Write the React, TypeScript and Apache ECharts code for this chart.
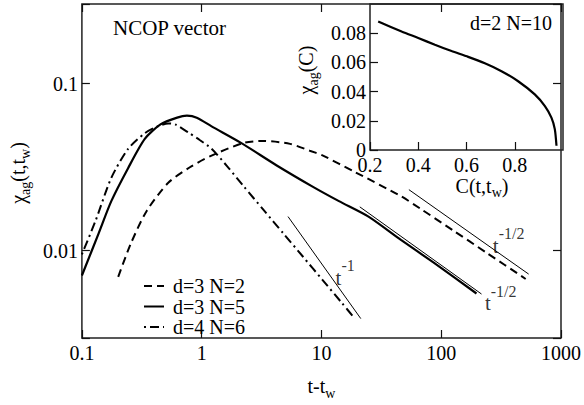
import React, { useEffect, useRef } from 'react';
import * as echarts from 'echarts';

const FONT = 'Liberation Serif';

// ---- data ----
const seriesNames = ['d=3 N=2', 'd=3 N=5', 'd=4 N=6'];

// d=3 N=2 (dashed)
const dashedX = [0.201, 0.257, 0.3475, 0.526, 0.797, 1.208, 2.252, 3.284, 5.47, 7.98, 10.2, 19.0, 46.1, 67.3, 125.4, 238, 507];
const dashedY = [0.00697, 0.0111, 0.0173, 0.0255, 0.0316, 0.0371, 0.0442, 0.0454, 0.0436, 0.0397, 0.0372, 0.0296, 0.0212, 0.0178, 0.01324, 0.00974, 0.00677];

// d=3 N=5 (solid)
const solidX = [0.1, 0.138, 0.176, 0.243, 0.335, 0.453, 0.624, 0.753, 0.91, 1.21, 2.13, 4.2, 8.43, 14.0, 24.7, 46.1, 86, 197];
const solidY = [0.0071, 0.0127, 0.0198, 0.0312, 0.0467, 0.057, 0.0626, 0.0643, 0.0626, 0.0555, 0.0442, 0.0325, 0.0242, 0.0198, 0.016, 0.0116, 0.0085, 0.00554];

// d=4 N=6 (dash-dot)
const dashDotX = [0.1, 0.13, 0.176, 0.243, 0.335, 0.428, 0.526, 0.601, 0.768, 0.963, 1.208, 1.634, 2.252, 3.284, 4.79, 6.99, 10.19, 14.86, 19.0];
const dashDotY = [0.0095, 0.0151, 0.0273, 0.0407, 0.0505, 0.0555, 0.0578, 0.057, 0.0512, 0.046, 0.0408, 0.032, 0.0242, 0.01754, 0.01273, 0.00923, 0.00669, 0.00485, 0.00392];

// thin power-law guide lines
const guideMinus1X = [5.26, 21.3];
const guideMinus1Y = [0.016, 0.00392];
const guideHalfLowX = [20.9, 217];
const guideHalfLowY = [0.0183, 0.0055];
const guideHalfHighX = [53.7, 537];
const guideHalfHighY = [0.0232, 0.00724];

// annotation labels (data coordinates of their left edge)
const annotX = [13.0, 229.6, 267];
const annotY = [0.00687, 0.00485, 0.01069];
const annotText = ['{b|t}{p|-1}', '{b|t}{p|-1/2}', '{b|t}{p|-1/2}'];

// inset: chi_ag(C) for d=2 N=10
const insetC = [0.234, 0.331, 0.4, 0.469, 0.538, 0.607, 0.676, 0.745, 0.814, 0.883, 0.925, 0.952, 0.966, 0.973];
const insetChi = [0.088, 0.0812, 0.0767, 0.0721, 0.0678, 0.0638, 0.0594, 0.054, 0.0471, 0.0381, 0.0301, 0.0222, 0.0143, 0.0029];

// tick labels
const xTickLabels = [0.1, 1, 10, 100, 1000];
const yTickLabels = [0.01, 0.1];

const zip = (xs: number[], ys: number[]) => xs.map((x, i) => [x, ys[i]]);

const isTick = (list: number[], v: number) =>
  list.find((t) => Math.abs(Math.log10(t) - Math.log10(v)) < 1e-6);

const INK = '#111';

const nameRich = {
  n: { fontSize: 20, fontFamily: FONT, color: '#000' },
  s: { fontSize: 14, fontFamily: FONT, color: '#000', padding: [14, 0, 0, 0] },
};

export default function App() {
  const ref = useRef<HTMLDivElement>(null);

  useEffect(() => {
    if (!ref.current) return;
    const chart = echarts.init(ref.current, undefined, { renderer: 'svg' });

    const tickStyle = { show: true, inside: true, length: 8, lineStyle: { color: INK, width: 1.2 } };
    const labelBase = { color: '#000', fontSize: 20, fontFamily: FONT };

    const curveBase = { type: 'line', xAxisIndex: 0, yAxisIndex: 0, symbol: 'none', showSymbol: false, smooth: 0.25 };

    const option: any = {
      animation: false,
      backgroundColor: '#fff',
      textStyle: { fontFamily: FONT },
      grid: [
        { left: 75, right: 21, top: 4, bottom: 58, show: true, borderColor: '#222', borderWidth: 1.5, backgroundColor: 'transparent' },
        { left: 370, right: 21, top: 4, bottom: 255, show: true, borderColor: '#222', borderWidth: 1.5, backgroundColor: 'transparent' },
      ],
      xAxis: [
        {
          type: 'log', gridIndex: 0, min: 0.1, max: 1000, logBase: 10,
          axisLine: { show: false }, splitLine: { show: false }, axisTick: tickStyle,
          minorTick: { show: false },
          axisLabel: { ...labelBase, margin: 5, formatter: (v: number) => { const t = isTick(xTickLabels, v); return t === undefined ? '' : String(t); } },
          name: '{n|t-t}{s|w}', nameLocation: 'middle', nameGap: 34,
          nameTextStyle: { rich: nameRich },
        },
        {
          type: 'log', gridIndex: 0, min: 0.1, max: 1000, logBase: 10, position: 'top',
          axisLine: { show: false }, splitLine: { show: false }, axisTick: tickStyle, axisLabel: { show: false },
        },
        {
          type: 'value', gridIndex: 1, min: 0.2, max: 1, interval: 0.2,
          axisLine: { show: false }, splitLine: { show: false }, axisTick: tickStyle,
          axisLabel: { ...labelBase, margin: 5, showMaxLabel: false },
          name: '{n|C(t,t}{s|w}{n|)}', nameLocation: 'middle', nameGap: 15,
          nameTextStyle: { rich: nameRich, padding: [0, 0, 0, 31] },
        },
      ],
      yAxis: [
        {
          type: 'log', gridIndex: 0, min: 0.003, max: 0.3, logBase: 10,
          axisLine: { show: false }, splitLine: { show: false }, axisTick: tickStyle,
          axisLabel: { ...labelBase, margin: 4, formatter: (v: number) => { const t = isTick(yTickLabels, v); return t === undefined ? '' : String(t); } },
          name: '{n|χ}{s|ag}{n|(t,t}{s|w}{n|)}', nameLocation: 'middle', nameGap: 37,
          nameTextStyle: { rich: nameRich, padding: [0, 4, 0, 0] },
        },
        {
          type: 'log', gridIndex: 0, min: 0.003, max: 0.3, logBase: 10, position: 'right',
          axisLine: { show: false }, splitLine: { show: false }, axisTick: tickStyle, axisLabel: { show: false },
        },
        {
          type: 'value', gridIndex: 1, min: 0, max: 0.1, interval: 0.02,
          axisLine: { show: false }, splitLine: { show: false }, axisTick: tickStyle,
          axisLabel: { ...labelBase, margin: 4, showMaxLabel: false },
          name: '{n|χ}{s|ag}{n|(C)}', nameLocation: 'middle', nameGap: 50,
          nameTextStyle: { rich: nameRich, padding: [0, 0, 0, 14] },
        },
      ],
      legend: {
        orient: 'vertical', left: 138, top: 271, itemGap: 0.5, itemWidth: 20, itemHeight: 12,
        data: seriesNames,
        itemStyle: { color: 'rgba(0,0,0,0)', borderColor: 'rgba(0,0,0,0)', borderWidth: 0 },
        textStyle: { color: '#000', fontSize: 20, fontFamily: FONT, lineHeight: 19, padding: [0, 0, 0, 4] },
      },
      graphic: [
        { type: 'text', left: 113, top: 17, style: { text: 'NCOP vector', fontSize: 21, fontFamily: FONT, fill: '#000' } },
        { type: 'text', left: 470, top: 13, style: { text: 'd=2 N=10', fontSize: 20, fontFamily: FONT, fill: '#000' } },
      ],
      series: [
        {
          ...curveBase, name: seriesNames[0], data: zip(dashedX, dashedY),
          lineStyle: { color: '#000', width: 2, type: [8, 5] }, itemStyle: { color: '#000' },
        },
        {
          ...curveBase, name: seriesNames[1], data: zip(solidX, solidY),
          lineStyle: { color: '#000', width: 2.2, type: 'solid' }, itemStyle: { color: '#000' },
        },
        {
          ...curveBase, name: seriesNames[2], data: zip(dashDotX, dashDotY),
          lineStyle: { color: '#000', width: 2, type: [2, 4, 9, 4] }, itemStyle: { color: '#000' },
        },
        {
          name: 'guide -1', type: 'line', xAxisIndex: 0, yAxisIndex: 0, data: zip(guideMinus1X, guideMinus1Y),
          symbol: 'none', lineStyle: { color: '#000', width: 1 },
        },
        {
          name: 'guide -1/2 low', type: 'line', xAxisIndex: 0, yAxisIndex: 0, data: zip(guideHalfLowX, guideHalfLowY),
          symbol: 'none', lineStyle: { color: '#000', width: 1 },
        },
        {
          name: 'guide -1/2 high', type: 'line', xAxisIndex: 0, yAxisIndex: 0, data: zip(guideHalfHighX, guideHalfHighY),
          symbol: 'none', lineStyle: { color: '#000', width: 1 },
        },
        {
          name: 'annotations', type: 'scatter', xAxisIndex: 0, yAxisIndex: 0,
          data: annotX.map((x, i) => ({ value: [x, annotY[i]], label: { formatter: annotText[i] } })),
          symbolSize: 1, itemStyle: { color: 'rgba(0,0,0,0)' },
          label: {
            show: true, position: 'right', distance: 0, color: '#000',
            rich: {
              b: { fontSize: 21, fontFamily: FONT, color: '#000' },
              p: { fontSize: 16, fontFamily: FONT, color: '#000', padding: [0, 0, 24, 0] },
            },
          },
          silent: true,
        },
        {
          name: 'inset', type: 'line', xAxisIndex: 2, yAxisIndex: 2, data: zip(insetC, insetChi),
          symbol: 'none', smooth: 0.25, lineStyle: { color: '#000', width: 2.2 },
        },
      ],
    };

    chart.setOption(option);
    return () => chart.dispose();
  }, []);

  return (
    <div
      ref={ref}
      style={{ position: 'fixed', left: 0, top: 0, width: 584, height: 405, background: '#fff' }}
    />
  );
}
